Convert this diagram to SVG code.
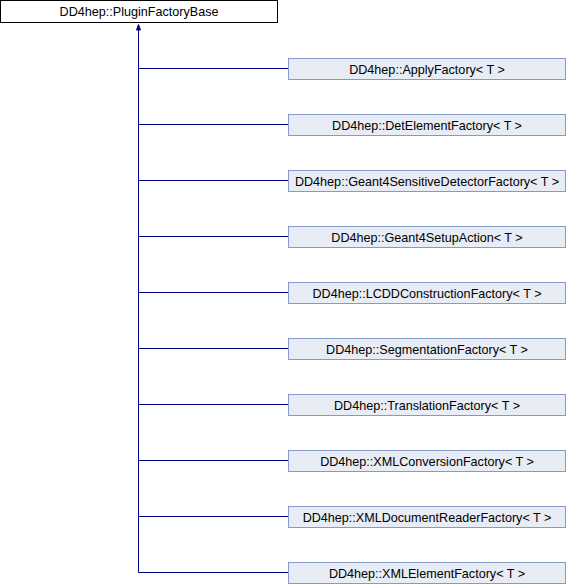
<svg xmlns="http://www.w3.org/2000/svg" width="566" height="584" viewBox="0 0 566 584">
  <style>
    .base rect { fill: #ffffff; stroke: #000000; stroke-width: 1; }
    .cls rect { fill: #e8ecf4; stroke: #8499cc; stroke-width: 1; }
    text { font-family: "Liberation Sans", Arial, sans-serif; font-size: 12.6px; fill: #000000; text-anchor: middle; }
    .edges path { fill: none; stroke: #000080; stroke-width: 1; }
    .edges polygon { fill: #000080; stroke: #000080; stroke-width: 1; }
  </style>

  <!-- inheritance edges -->
  <g id="edges" class="edges">
    <path d="M138.5,30 V572.5"/>
    <path d="M138.5,68.5 H288"/>
    <path d="M138.5,124.5 H288"/>
    <path d="M138.5,180.5 H288"/>
    <path d="M138.5,236.5 H288"/>
    <path d="M138.5,292.5 H288"/>
    <path d="M138.5,348.5 H288"/>
    <path d="M138.5,404.5 H288"/>
    <path d="M138.5,460.5 H288"/>
    <path d="M138.5,516.5 H288"/>
    <path d="M138.5,572.5 H288"/>
    <polygon points="138.5,24.5 136.5,30 140.5,30"/>
  </g>

  <!-- base class -->
  <g id="PluginFactoryBase" class="base">
    <rect x="0.5" y="0.5" width="277" height="22"/>
    <text x="139" y="16">DD4hep::PluginFactoryBase</text>
  </g>

  <!-- derived classes -->
  <g id="ApplyFactory" class="cls">
    <rect x="288.5" y="58.5" width="277" height="21"/>
    <text x="427" y="73.5">DD4hep::ApplyFactory&lt; T &gt;</text>
  </g>
  <g id="DetElementFactory" class="cls">
    <rect x="288.5" y="114.5" width="277" height="21"/>
    <text x="427" y="129.5">DD4hep::DetElementFactory&lt; T &gt;</text>
  </g>
  <g id="Geant4SensitiveDetectorFactory" class="cls">
    <rect x="288.5" y="170.5" width="277" height="21"/>
    <text x="427" y="185.5">DD4hep::Geant4SensitiveDetectorFactory&lt; T &gt;</text>
  </g>
  <g id="Geant4SetupAction" class="cls">
    <rect x="288.5" y="226.5" width="277" height="21"/>
    <text x="427" y="241.5">DD4hep::Geant4SetupAction&lt; T &gt;</text>
  </g>
  <g id="LCDDConstructionFactory" class="cls">
    <rect x="288.5" y="282.5" width="277" height="21"/>
    <text x="427" y="297.5">DD4hep::LCDDConstructionFactory&lt; T &gt;</text>
  </g>
  <g id="SegmentationFactory" class="cls">
    <rect x="288.5" y="338.5" width="277" height="21"/>
    <text x="427" y="353.5">DD4hep::SegmentationFactory&lt; T &gt;</text>
  </g>
  <g id="TranslationFactory" class="cls">
    <rect x="288.5" y="394.5" width="277" height="21"/>
    <text x="427" y="409.5">DD4hep::TranslationFactory&lt; T &gt;</text>
  </g>
  <g id="XMLConversionFactory" class="cls">
    <rect x="288.5" y="450.5" width="277" height="21"/>
    <text x="427" y="465.5">DD4hep::XMLConversionFactory&lt; T &gt;</text>
  </g>
  <g id="XMLDocumentReaderFactory" class="cls">
    <rect x="288.5" y="506.5" width="277" height="21"/>
    <text x="427" y="521.5">DD4hep::XMLDocumentReaderFactory&lt; T &gt;</text>
  </g>
  <g id="XMLElementFactory" class="cls">
    <rect x="288.5" y="562.5" width="277" height="21"/>
    <text x="427" y="577.5">DD4hep::XMLElementFactory&lt; T &gt;</text>
  </g>
</svg>
